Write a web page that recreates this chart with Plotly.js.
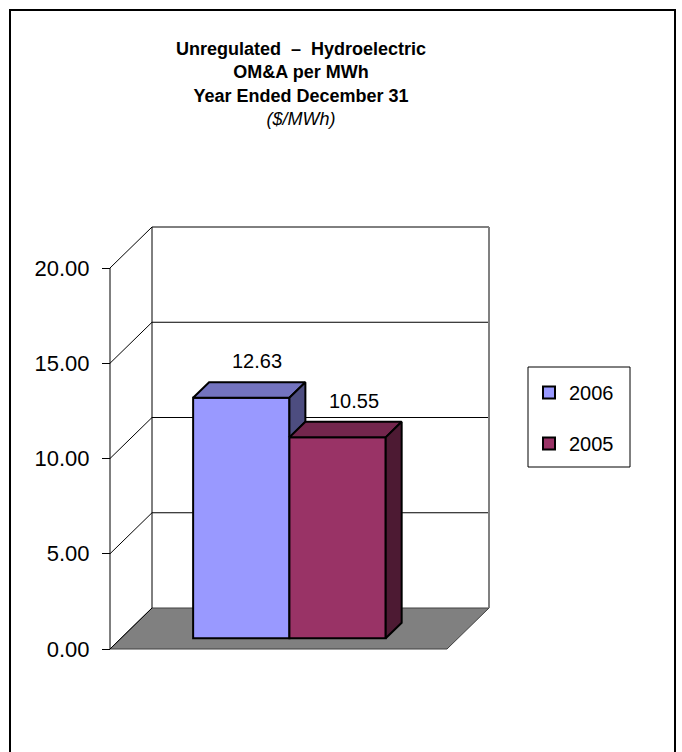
<!DOCTYPE html>
<html>
<head>
<meta charset="utf-8">
<script src="https://cdn.plot.ly/plotly-3.0.1.min.js"></script>
<style>
  html, body { margin: 0; padding: 0; background: #ffffff; }
  #chart { width: 682px; height: 752px; }
</style>
</head>
<body>
<div id="chart"></div>
<script>
// Series data
const seriesNames = ['2006', '2005'];
const seriesValues = [12.63, 10.55];
const frontColors = ['#9999FF', '#993366'];
const topColors = ['#7373BF', '#73264D'];
const sideColors = ['#4D4D80', '#4D1A33'];
const yTickValues = [0, 5, 10, 15, 20];
const yMax = 20;

// Pseudo-3D geometry (front plane spans x 0..1, y 0..yMax)
const PX_PER_X = 337;          // pixels per x unit on the front plane
const PX_PER_Y = 381 / yMax;   // pixels per y unit
const DX = 42 / PX_PER_X;      // depth offset in x units
const DY = 41 / PX_PER_Y;      // depth offset in y units
const PAD = 4;                 // pixel padding so edge lines are not clipped
const F0 = 0.26, F1 = 0.64;    // front / back depth of the columns
const BAR_W = 1 / 3.5;         // gap width 150%
const GROUP_C = 0.5;

const PLOT_L = 110 - PAD, PLOT_T = 268 - 41 - PAD;
const PLOT_W = PX_PER_X + 42 + 2 * PAD;
const PLOT_H = 381 + 41 + 2 * PAD;
const W = 682, H = 752;

const xRange = [-PAD / PX_PER_X, 1 + DX + PAD / PX_PER_X];
const yRange = [-PAD / PX_PER_Y, yMax + DY + PAD / PX_PER_Y];

// pixel -> paper helpers for decorations
const px2paperX = p => (p - PLOT_L) / PLOT_W;
const px2paperY = p => (PLOT_T + PLOT_H - p) / PLOT_H;

const FONT = 'Arial, "Liberation Sans", sans-serif';
const n = seriesValues.length;

const traces = [];
const faceTraces = [];
const annotations = [];

seriesValues.forEach((v, i) => {
  const L = GROUP_C - n * BAR_W / 2 + i * BAR_W;
  const R = L + BAR_W;

  // front face: a real bar trace
  traces.push({
    type: 'bar',
    name: seriesNames[i],
    legendgroup: 'g' + i,
    x: [(L + R) / 2 + F0 * DX],
    base: [F0 * DY],
    y: [v],
    width: [BAR_W],
    marker: { color: frontColors[i], line: { color: '#000000', width: 2 } },
    hoverinfo: 'skip'
  });

  // top face
  faceTraces.push({
    type: 'scatter', mode: 'lines', showlegend: false, hoverinfo: 'skip',
    x: [L + F0 * DX, R + F0 * DX, R + F1 * DX, L + F1 * DX, L + F0 * DX],
    y: [v + F0 * DY, v + F0 * DY, v + F1 * DY, v + F1 * DY, v + F0 * DY],
    fill: 'toself', fillcolor: topColors[i],
    line: { color: '#000000', width: 2 }
  });

  // right side face (only the part not hidden by the next column)
  const lower = i < n - 1 ? Math.min(seriesValues[i + 1], v) : 0;
  faceTraces.push({
    type: 'scatter', mode: 'lines', showlegend: false, hoverinfo: 'skip',
    x: [R + F0 * DX, R + F0 * DX, R + F1 * DX, R + F1 * DX, R + F0 * DX],
    y: [lower + F0 * DY, v + F0 * DY, v + F1 * DY, lower + F1 * DY, lower + F0 * DY],
    fill: 'toself', fillcolor: sideColors[i],
    line: { color: '#000000', width: 2 }
  });

  // value label above the column
  annotations.push({
    x: (L + R) / 2 + F1 * DX, y: v + F1 * DY,
    xref: 'x', yref: 'y',
    text: v.toFixed(2), showarrow: false,
    yanchor: 'bottom', yshift: 8,
    font: { family: FONT, size: 20, color: '#000000' }
  });
});

// walls, floor and gridlines
const shapes = [];
shapes.push({
  type: 'path', xref: 'x', yref: 'y', layer: 'below',
  path: `M0,0 L1,0 L${1 + DX},${DY} L${DX},${DY} Z`,
  fillcolor: '#808080', line: { color: '#404040', width: 1 }
});
yTickValues.forEach(t => {
  if (t > 0) {
    shapes.push({
      type: 'line', xref: 'x', yref: 'y', layer: 'below',
      x0: DX, y0: t + DY, x1: 1 + DX, y1: t + DY,
      line: { color: '#000000', width: 1 }
    });
  }
  shapes.push({
    type: 'line', xref: 'x', yref: 'y', layer: 'below',
    x0: 0, y0: t, x1: DX, y1: t + DY,
    line: { color: '#000000', width: 1 }
  });
});
shapes.push({
  type: 'line', xref: 'x', yref: 'y', layer: 'below',
  x0: DX, y0: DY, x1: DX, y1: yMax + DY,
  line: { color: '#000000', width: 1 }
});
shapes.push({
  type: 'line', xref: 'x', yref: 'y', layer: 'below',
  x0: 1 + DX, y0: DY, x1: 1 + DX, y1: yMax + DY,
  line: { color: '#808080', width: 2 }
});
shapes.push({
  type: 'line', xref: 'x', yref: 'y', layer: 'below',
  x0: 0, y0: 0, x1: 0, y1: yMax,
  line: { color: '#000000', width: 1 }
});
// legend frame
shapes.push({
  type: 'rect', xref: 'paper', yref: 'paper',
  x0: px2paperX(528), x1: px2paperX(630),
  y0: px2paperY(467), y1: px2paperY(367),
  line: { color: '#000000', width: 1 }, fillcolor: 'rgba(0,0,0,0)'
});
// chart frame
shapes.push({
  type: 'rect', xref: 'paper', yref: 'paper',
  x0: px2paperX(10), x1: px2paperX(675),
  y0: px2paperY(770), y1: px2paperY(10),
  line: { color: '#000000', width: 2 }, fillcolor: 'rgba(0,0,0,0)'
});

const layout = {
  width: W, height: H,
  margin: { l: PLOT_L, r: W - PLOT_L - PLOT_W, t: PLOT_T, b: H - PLOT_T - PLOT_H, pad: 0 },
  paper_bgcolor: '#ffffff', plot_bgcolor: 'rgba(0,0,0,0)',
  font: { family: FONT, color: '#000000' },
  title: {
    text: '<b>Unregulated  –  Hydroelectric</b><br><b>OM&amp;A per MWh</b><br><b>Year Ended December 31</b><br><i>($/MWh)</i>',
    font: { family: FONT, size: 18, color: '#000000' },
    xref: 'container', yref: 'container',
    x: 301 / W, xanchor: 'center',
    y: 1 - 55 / H, yanchor: 'middle'
  },
  barmode: 'overlay',
  bargap: 0,
  xaxis: {
    range: xRange, visible: false, fixedrange: true
  },
  yaxis: {
    range: yRange,
    anchor: 'free', position: PAD / PLOT_W,
    tickvals: yTickValues,
    ticktext: yTickValues.map(t => t.toFixed(2)),
    ticks: 'outside', ticklen: 8, tickwidth: 1, tickcolor: '#000000',
    ticklabelstandoff: 8,
    tickfont: { family: FONT, size: 22, color: '#000000' },
    showline: false, showgrid: false, zeroline: false, fixedrange: true
  },
  showlegend: true,
  legend: {
    x: px2paperX(529), xanchor: 'left',
    y: px2paperY(373), yanchor: 'top',
    traceorder: 'grouped', tracegroupgap: 22,
    bgcolor: 'rgba(0,0,0,0)', borderwidth: 0,
    font: { family: FONT, size: 20, color: '#000000' }
  },
  shapes: shapes,
  annotations: annotations
};

Plotly.newPlot('chart', traces.concat(faceTraces), layout, { staticPlot: true, displayModeBar: false });
</script>
</body>
</html>
